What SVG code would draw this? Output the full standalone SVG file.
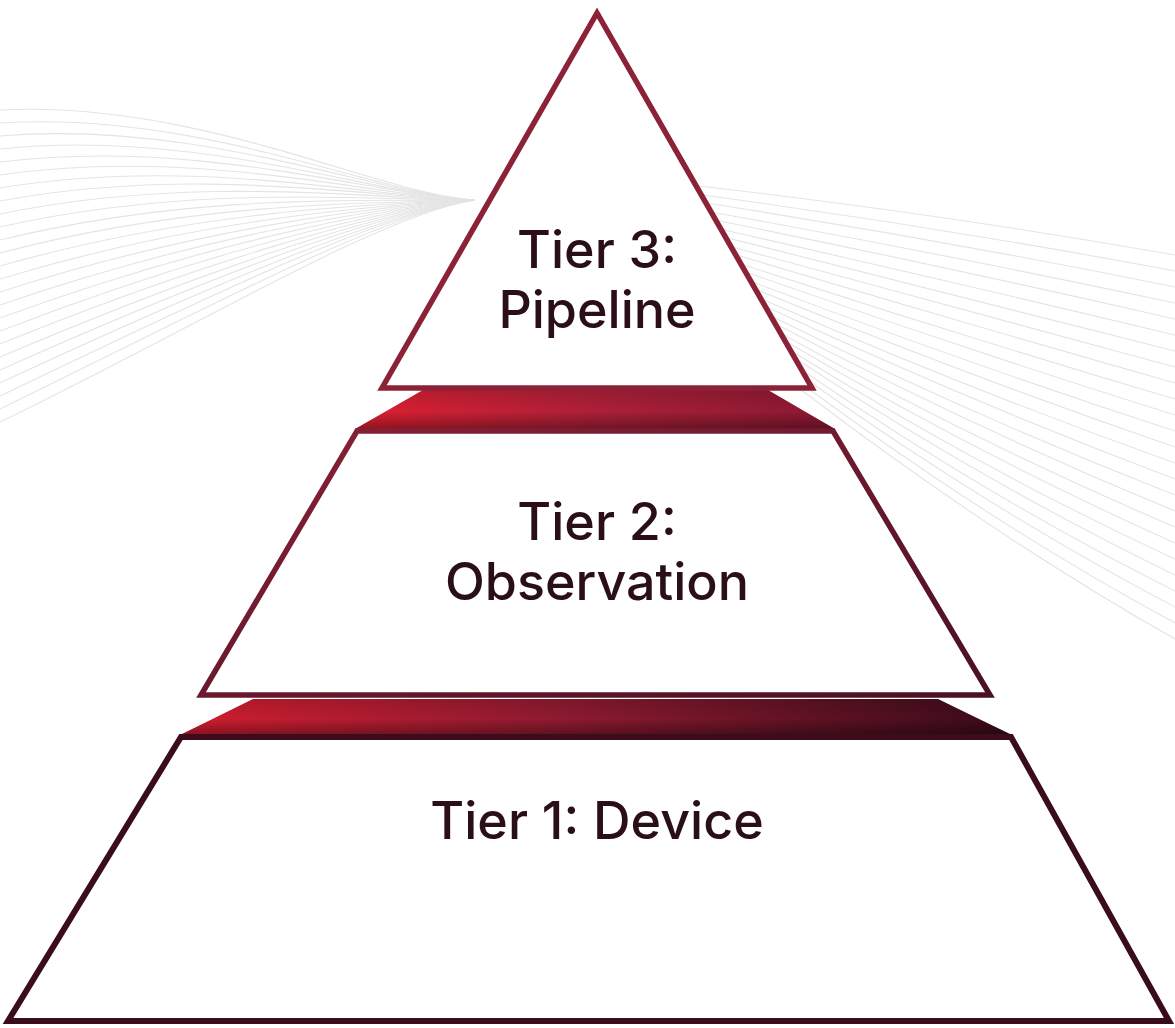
<svg xmlns="http://www.w3.org/2000/svg" width="1175" height="1028" viewBox="0 0 1175 1028">
<defs>
<style>
.bg{fill:none;stroke:#e4e4e4;stroke-width:1.1}
.lbl{font-family:Inter,"Liberation Sans",sans-serif;font-weight:500;font-size:52px;fill:#2a0f17;text-anchor:middle}
</style>
<linearGradient id="band1" x1="0" y1="0" x2="1" y2="0">
<stop offset="0" stop-color="#de1f31"/>
<stop offset="0.5" stop-color="#ac2038"/>
<stop offset="1" stop-color="#8a1832"/>
</linearGradient>
<linearGradient id="band2" x1="0" y1="0" x2="1" y2="0">
<stop offset="0" stop-color="#d11d2f"/>
<stop offset="0.45" stop-color="#8f1a30"/>
<stop offset="1" stop-color="#3a0b19"/>
</linearGradient>
<linearGradient id="shade" x1="0" y1="0" x2="0" y2="1">
<stop offset="0" stop-color="#000" stop-opacity="0.12"/>
<stop offset="0.55" stop-color="#000" stop-opacity="0"/>
<stop offset="1" stop-color="#000" stop-opacity="0.35"/>
</linearGradient>
<linearGradient id="t2stroke" x1="0" y1="0" x2="1" y2="1">
<stop offset="0" stop-color="#8a2137"/>
<stop offset="1" stop-color="#4a1024"/>
</linearGradient>
</defs>
<rect width="1175" height="1028" fill="#ffffff"/>
<g id="background-lines">
<path class="bg" d="M0,110 C200,100 380,195 475,200"/>
<path class="bg" d="M0,123 C200,110 380,196 475,200"/>
<path class="bg" d="M0,136 C200,119 380,196 475,200"/>
<path class="bg" d="M0,149 C200,128 380,197 475,200"/>
<path class="bg" d="M0,162 C200,137 380,197 475,200"/>
<path class="bg" d="M0,175 C200,146 380,198 475,200"/>
<path class="bg" d="M0,188 C200,155 380,199 475,200"/>
<path class="bg" d="M0,201 C200,164 380,199 475,200"/>
<path class="bg" d="M0,214 C200,173 380,200 475,200"/>
<path class="bg" d="M0,227 C200,182 380,201 475,200"/>
<path class="bg" d="M0,240 C200,191 380,202 475,200"/>
<path class="bg" d="M0,253 C200,200 380,203 475,200"/>
<path class="bg" d="M0,266 C200,209 380,204 475,200"/>
<path class="bg" d="M0,279 C200,218 380,205 475,200"/>
<path class="bg" d="M0,292 C200,227 380,206 475,200"/>
<path class="bg" d="M0,305 C200,236 380,207 475,200"/>
<path class="bg" d="M0,318 C200,245 380,208 475,200"/>
<path class="bg" d="M0,331 C200,254 380,209 475,200"/>
<path class="bg" d="M0,344 C200,263 380,210 475,200"/>
<path class="bg" d="M0,357 C200,272 380,211 475,200"/>
<path class="bg" d="M0,370 C200,281 380,212 475,200"/>
<path class="bg" d="M0,383 C200,290 380,213 475,200"/>
<path class="bg" d="M0,396 C200,300 380,213 475,200"/>
<path class="bg" d="M0,409 C200,312 380,214 475,200"/>
<path class="bg" d="M0,422 C200,325 380,215 475,200"/>
<path class="bg" d="M690,185 Q930,212 1175,255"/>
<path class="bg" d="M695,194 Q935,226 1175,271"/>
<path class="bg" d="M700,202 Q938,239 1175,287"/>
<path class="bg" d="M705,211 Q940,253 1175,303"/>
<path class="bg" d="M710,219 Q943,266 1175,319"/>
<path class="bg" d="M715,228 Q945,280 1175,335"/>
<path class="bg" d="M720,236 Q948,293 1175,351"/>
<path class="bg" d="M725,245 Q950,307 1175,367"/>
<path class="bg" d="M730,253 Q953,320 1175,383"/>
<path class="bg" d="M735,262 Q955,334 1175,399"/>
<path class="bg" d="M740,270 Q958,347 1175,415"/>
<path class="bg" d="M745,279 Q960,361 1175,431"/>
<path class="bg" d="M750,287 Q963,374 1175,447"/>
<path class="bg" d="M755,296 Q965,388 1175,463"/>
<path class="bg" d="M760,304 Q968,401 1175,479"/>
<path class="bg" d="M765,313 Q970,415 1175,495"/>
<path class="bg" d="M770,321 Q973,428 1175,511"/>
<path class="bg" d="M775,330 Q975,442 1175,527"/>
<path class="bg" d="M780,338 Q978,455 1175,543"/>
<path class="bg" d="M785,347 Q980,469 1175,559"/>
<path class="bg" d="M790,355 Q983,482 1175,575"/>
<path class="bg" d="M793,364 Q985,496 1175,591"/>
<path class="bg" d="M796,372 Q988,509 1175,607"/>
<path class="bg" d="M798,381 Q990,523 1175,623"/>
<path class="bg" d="M800,389 Q993,536 1175,639"/>
</g>
<g id="connectors">
<g id="band-3-2">
<polygon points="423,390 768,390 835,429 355,429" fill="url(#band1)"/>
<polygon points="423,390 768,390 835,429 355,429" fill="url(#shade)"/>
</g>
<g id="band-2-1">
<polygon points="253,699 938,699 1012,735 180,735" fill="url(#band2)"/>
<polygon points="253,699 938,699 1012,735 180,735" fill="url(#shade)"/>
</g>
</g>
<g id="tier3">
<polygon points="597,13 382,388 812,388" fill="#ffffff" stroke="#8c2238" stroke-width="5.5"/>
<text class="lbl" x="597" y="268">Tier 3:</text>
<text class="lbl" x="597" y="328">Pipeline</text>
</g>
<g id="tier2">
<polygon points="357,431 833,431 990,695 201,695" fill="#ffffff" stroke="url(#t2stroke)" stroke-width="5.5"/>
<text class="lbl" x="597" y="540">Tier 2:</text>
<text class="lbl" x="597" y="600">Observation</text>
</g>
<g id="tier1">
<polygon points="181,737 1011,737 1169,1021 8,1021" fill="#ffffff" stroke="#3b0c1b" stroke-width="6"/>
<text class="lbl" x="597" y="839">Tier 1: Device</text>
</g>
</svg>
